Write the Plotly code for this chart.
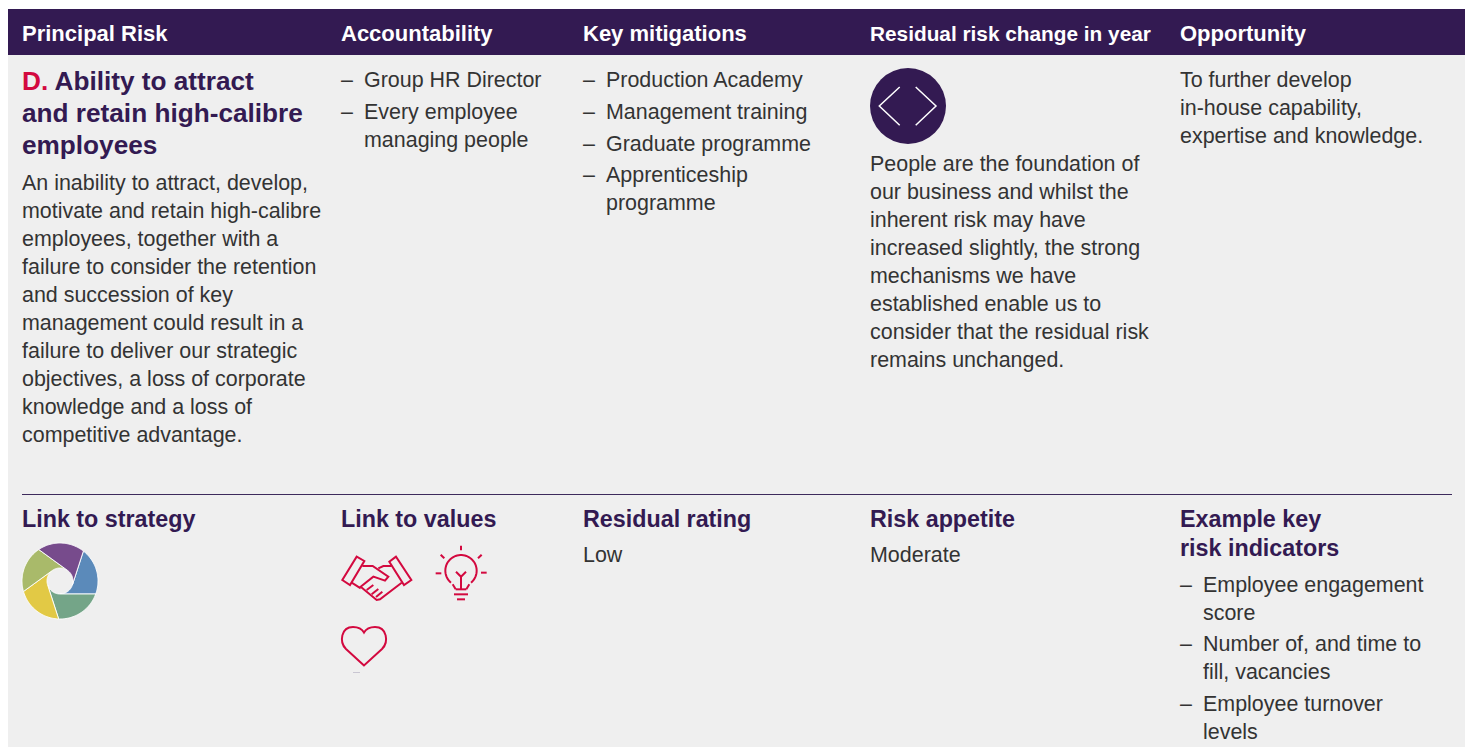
import numpy as np
import plotly.graph_objects as go

W, H = 1465, 747
PURPLE, RED, INK, PANEL = "#331a52", "#d3093f", "#333333", "#efefef"
FONT = "Liberation Sans"
BODY = 21.45

header_labels = ["Principal Risk", "Accountability", "Key mitigations", "Residual risk change in year", "Opportunity"]
header_x = [22, 341, 583, 870, 1180]
header_sizes = [22, 22, 22, 20.8, 22]

title_lines = ['<span style="color:#d3093f">D.</span> Ability to attract', "and retain high-calibre", "employees"]
title_y = [81, 113, 145]
body_lines = ["An inability to attract, develop,", "motivate and retain high-calibre", "employees, together with a",
              "failure to consider the retention", "and succession of key", "management could result in a",
              "failure to deliver our strategic", "objectives, a loss of corporate", "knowledge and a loss of",
              "competitive advantage."]
body_y = [183, 211, 239, 267, 295, 323, 351, 379, 407, 435]

account_lines = ["Group HR Director", "Every employee", "managing people"]
account_y = [80, 112, 140]
account_dash_y = [80, 112]
mitigation_lines = ["Production Academy", "Management training", "Graduate programme", "Apprenticeship", "programme"]
mitigation_y = [80, 112, 144, 175, 203]
mitigation_dash_y = [80, 112, 144, 175]
residual_lines = ["People are the foundation of", "our business and whilst the", "inherent risk may have",
                  "increased slightly, the strong", "mechanisms we have", "established enable us to",
                  "consider that the residual risk", "remains unchanged."]
residual_y = [164, 192, 220, 248, 276, 304, 332, 360]
opportunity_lines = ["To further develop", "in-house capability,", "expertise and knowledge."]
opportunity_y = [80, 108, 136]

lower_heads = ["Link to strategy", "Link to values", "Residual rating", "Risk appetite", "Example key", "risk indicators"]
lower_heads_x = [22, 341, 583, 870, 1180, 1180]
lower_heads_y = [519, 519, 519, 519, 519, 548]
rating_label, appetite_label = "Low", "Moderate"
kri_lines = ["Employee engagement", "score", "Number of, and time to", "fill, vacancies", "Employee turnover", "levels"]
kri_y = [585, 613, 644, 672, 704, 732]
kri_dash_y = [585, 644, 704]

blade_colors = ["#5b8aba", "#74a588", "#e2c945", "#a9ba6a", "#774b8c"]
blade_start_deg = [38, 110, 182, 254, 326]

fig = go.Figure()
ann = []
def text(x, y, s, size=BODY, color=INK, bold=False):
    ann.append(dict(x=x - 2, y=y, xref="x", yref="y", text=f"<b>{s}</b>" if bold else s, showarrow=False,
                    xanchor="left", yanchor="middle", align="left",
                    font=dict(family=FONT, size=size, color=color)))

shapes = []
def rect(x0, y0, x1, y1, fill):
    shapes.append(dict(type="rect", x0=x0, y0=y0, x1=x1, y1=y1, fillcolor=fill, line_width=0, layer="below"))
def poly(pts, color=RED, width=2, fill=None, close=False):
    d = "M" + " L".join(f"{x:.2f},{y:.2f}" for x, y in pts) + (" Z" if close else "")
    shapes.append(dict(type="path", path=d, line=dict(color=color, width=width),
                       fillcolor=fill if fill else "rgba(0,0,0,0)"))
def z(pts, ox=330, oy=535):
    return [(ox + a / 3, oy + b / 3) for a, b in pts]
def ring(cx, cy, r, a0, a1, n=40):
    t = np.radians(np.linspace(a0, a1, n))
    return list(zip(cx + r * np.sin(t), cy - r * np.cos(t)))

rect(8, 9, W, H, PANEL)
rect(8, 9, W, 55, PURPLE)
shapes.append(dict(type="line", x0=22, x1=1452, y0=494.5, y1=494.5, line=dict(color="#3d2a5c", width=1)))

for s, x, fs in zip(header_labels, header_x, header_sizes):
    text(x, 33, s, size=fs, color="white", bold=True)
for s, y in zip(title_lines, title_y):
    text(22, y, s, size=26.2, color=PURPLE, bold=True)
for s, y in zip(body_lines, body_y):
    text(22, y, s)
for s, y in zip(account_lines, account_y):
    text(364, y, s)
for y in account_dash_y:
    text(341, y, "–")
for s, y in zip(mitigation_lines, mitigation_y):
    text(606, y, s)
for y in mitigation_dash_y:
    text(583, y, "–")
for s, y in zip(residual_lines, residual_y):
    text(870, y, s)
for s, y in zip(opportunity_lines, opportunity_y):
    text(1180, y, s)
for s, x, y in zip(lower_heads, lower_heads_x, lower_heads_y):
    text(x, y, s, size=23.3, color=PURPLE, bold=True)
text(583, 555, rating_label)
text(870, 555, appetite_label)
for s, y in zip(kri_lines, kri_y):
    text(1203, y, s)
for y in kri_dash_y:
    text(1180, y, "–")

# Residual change badge
shapes.append(dict(type="circle", x0=870, x1=946, y0=68, y1=144, fillcolor=PURPLE, line_width=0))
poly([(899.7, 87), (879.3, 106), (899.7, 125.3)], color="white", width=1.5)
poly([(915.7, 87), (936, 106), (915.7, 125.3)], color="white", width=1.5)

# Strategy wheel
for c, a in zip(blade_colors, blade_start_deg):
    pts = ring(60, 581, 38, a, a + 72) + ring(60, 581, 13, a + 142, a + 70)
    poly(pts, color="white", width=0.9, fill=c, close=True)

# Handshake
poly(z([(80, 65), (103, 78), (60, 150), (37, 135)]), close=True)
poly(z([(198, 65), (178, 80), (222, 150), (244, 135)]), close=True)
poly(z([(97, 93), (128, 93), (175, 125), (165, 137), (130, 125), (92, 155), (140, 195), (150, 193), (215, 143)]))
poly(z([(145, 100), (160, 93), (185, 93)]))
poly(z([(65, 143), (92, 160)]))
poly(z([(130, 150), (110, 165)]))
poly(z([(145, 162), (125, 178)]))
poly(z([(157, 170), (138, 186)]))

# Light bulb
poly(z([(377, 163), (409, 163)]))
poly(z([(409, 163), (418, 148)]))
poly(z([(377, 163), (368, 148)]))
t = np.radians(np.linspace(-140, 140, 50))
poly([(330 + (393 + 47 * np.sin(a)) / 3, 535 + (107 - 47 * np.cos(a)) / 3) for a in t])
poly(z([(393, 163), (393, 125), (378, 110)]))
poly(z([(393, 125), (408, 110)]))
poly(z([(372, 178), (414, 178)]))
poly(z([(381, 193), (405, 193)]))
poly(z([(393, 32), (393, 46)]), width=2)
poly(z([(332, 59), (343, 70)]), width=2)
poly(z([(455, 59), (444, 70)]), width=2)
poly(z([(317, 115), (334, 115)]), width=2)
poly(z([(453, 113), (470, 113)]), width=2)

# Heart
shapes.append(dict(type="path", line=dict(color=RED, width=2), fillcolor="rgba(0,0,0,0)",
                   path="M364,665.5 L346,649 C339,642 341,627 353,627 C358,627 362,629 364,632.5 "
                        "C366,629 370,627 375,627 C387,627 389,642 382,649 Z"))
shapes.append(dict(type="line", x0=353, x1=360, y0=672.5, y1=672.5, line=dict(color="#c9c6d2", width=1)))

fig.update_layout(width=W, height=H, margin=dict(l=0, r=0, t=0, b=0), paper_bgcolor="white", plot_bgcolor="white",
                  showlegend=False, shapes=shapes, annotations=ann,
                  xaxis=dict(range=[0, W], visible=False, fixedrange=True),
                  yaxis=dict(range=[H, 0], visible=False, fixedrange=True))
fig.write_html("out.html", post_script="document.body.style.margin='0';document.body.style.overflow='hidden';",
               config=dict(displayModeBar=False))
